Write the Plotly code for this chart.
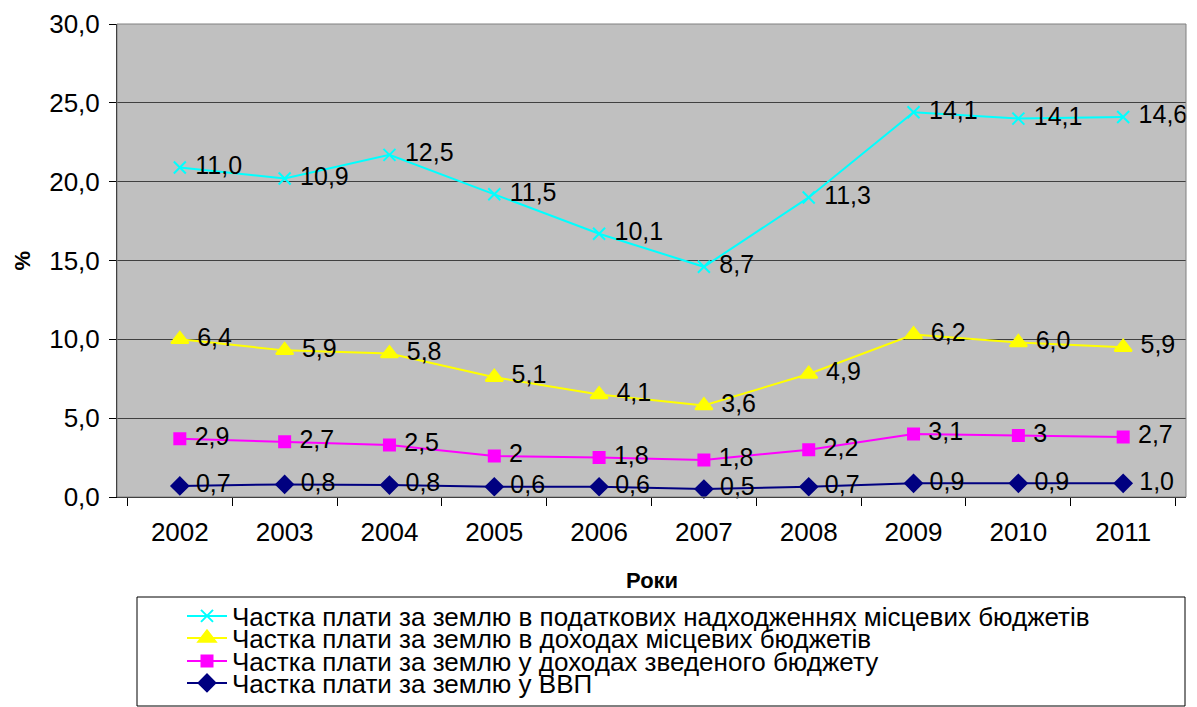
import plotly.graph_objects as go

years = ["2002", "2003", "2004", "2005", "2006", "2007", "2008", "2009", "2010", "2011"]

# plotted positions
tax_share = [20.9, 20.2, 21.7, 19.2, 16.7, 14.6, 19.0, 24.4, 24.0, 24.1]
local_income_share = [10.0, 9.3, 9.1, 7.6, 6.5, 5.8, 7.8, 10.3, 9.8, 9.5]
consolidated_share = [3.7, 3.5, 3.3, 2.6, 2.5, 2.35, 3.0, 4.0, 3.9, 3.8]
gdp_share = [0.7, 0.8, 0.76, 0.65, 0.65, 0.5, 0.65, 0.87, 0.87, 0.87]

# data label texts
tax_labels = ["11,0", "10,9", "12,5", "11,5", "10,1", "8,7", "11,3", "14,1", "14,1", "14,6"]
local_labels = ["6,4", "5,9", "5,8", "5,1", "4,1", "3,6", "4,9", "6,2", "6,0", "5,9"]
consolidated_labels = ["2,9", "2,7", "2,5", "2", "1,8", "1,8", "2,2", "3,1", "3", "2,7"]
gdp_labels = ["0,7", "0,8", "0,8", "0,6", "0,6", "0,5", "0,7", "0,9", "0,9", "1,0"]

names = [
    "Частка плати за землю в податкових надходженнях місцевих бюджетів",
    "Частка плати за землю в доходах місцевих бюджетів",
    "Частка плати за землю у доходах зведеного бюджету",
    "Частка плати за землю у ВВП",
]

FONT = "Liberation Sans, Arial, sans-serif"
W, H = 1197, 707
PL, PR, PT, PB = 117, 1186, 24, 497  # plot area in pixels
PW, PH = PR - PL, PB - PT

series = [
    (tax_share, tax_labels, names[0], "#00FFFF", "x-thin-open", 12, "legend"),
    (local_income_share, local_labels, names[1], "#FFFF00", "triangle-up", 15, "legend2"),
    (consolidated_share, consolidated_labels, names[2], "#FF00FF", "square", 11, "legend3"),
    (gdp_share, gdp_labels, names[3], "#000080", "diamond", 13, "legend4"),
]

fig = go.Figure()
for vals, labels, name, color, sym, size, lg in series:
    fig.add_trace(go.Scatter(
        x=years, y=vals, name=name, mode="lines+markers+text",
        text=["\u00a0" + t for t in labels], textposition="middle right",
        textfont=dict(family=FONT, size=25, color="#000000"),
        line=dict(color=color, width=2),
        marker=dict(symbol=sym, size=size, color=color,
                    line=dict(color=color, width=2)),
        cliponaxis=False, legend=lg,
    ))

row_y = [616, 638, 661, 683]
legends = {}
for i, key in enumerate(["legend", "legend2", "legend3", "legend4"]):
    legends[key] = dict(
        xref="container", yref="container",
        x=182 / W, xanchor="left", y=1 - row_y[i] / H, yanchor="middle",
        bgcolor="rgba(0,0,0,0)", borderwidth=0,
        font=dict(family=FONT, size=26, color="#000000"),
        itemwidth=40,
    )

fig.update_layout(
    width=W, height=H,
    margin=dict(l=PL, r=W - PR, t=PT, b=H - PB, autoexpand=False),
    paper_bgcolor="#FFFFFF", plot_bgcolor="#C0C0C0",
    separators=",.",
    font=dict(family=FONT, size=24, color="#000000"),
    showlegend=True,
    **legends,
)

fig.update_xaxes(
    type="category", tickson="boundaries", ticks="outside", ticklen=8,
    tickcolor="#000000", showline=True, linecolor="#000000", linewidth=1,
    showgrid=False, tickfont=dict(family=FONT, size=26, color="#000000"),
    ticklabelstandoff=12, tickangle=0, automargin=False,
)
fig.update_yaxes(
    range=[0, 30], dtick=5, tickformat=".1f", ticks="outside", ticklen=7,
    tickcolor="#000000", showline=True, linecolor="#000000", linewidth=1,
    showgrid=True, gridcolor="#404040", gridwidth=1, zeroline=False,
    tickfont=dict(family=FONT, size=26, color="#000000"),
    ticklabelstandoff=4, automargin=False,
)

# axis titles
fig.add_annotation(text="<b>Роки</b>", xref="paper", yref="paper",
                   x=0.5, y=-(580 - PB) / PH, xanchor="center", yanchor="middle",
                   showarrow=False, font=dict(family=FONT, size=22, color="#000000"))
fig.add_annotation(text="<b>%</b>", xref="paper", yref="paper",
                   x=(22 - PL) / PW, y=0.5, xanchor="center", yanchor="middle", textangle=-90,
                   showarrow=False, font=dict(family=FONT, size=22, color="#000000"))

# plot frame and legend box
fig.add_shape(type="rect", xref="x domain", yref="y domain", x0=0, x1=1, y0=0, y1=1,
              line=dict(color="#808080", width=1), layer="above")
fig.add_shape(type="rect", xref="paper", yref="paper",
              x0=(137 - PL) / PW, x1=(1185 - PL) / PW,
              y0=-(706 - PB) / PH, y1=-(597 - PB) / PH,
              line=dict(color="#000000", width=1), fillcolor="rgba(0,0,0,0)")

fig.write_html("out.html", config={"displayModeBar": False},
               post_script="document.body.style.margin='0';document.body.style.padding='0';")
